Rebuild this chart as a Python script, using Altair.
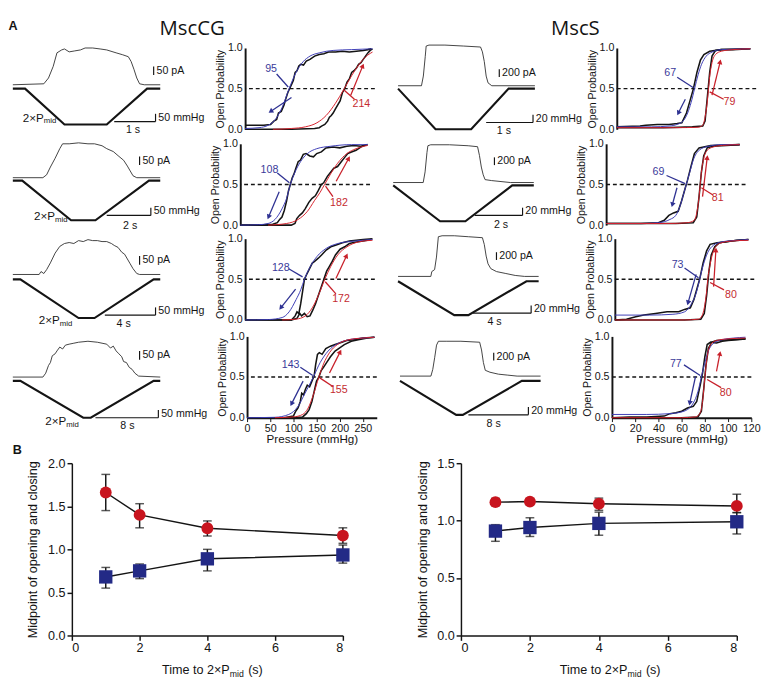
import math
import altair as alt
import pandas as pd

FONT = "Liberation Sans"
BLUE = "#2e3192"
RED = "#c8202a"
INK = "#141414"

# ---------------- Panel A: current (thin) and pressure (thick) traces ----------------
# (time position, amplitude) pairs, arbitrary units
CG_CUR = [
    [(0,46),(33,47),(38,53),(43,65),(47,79),(52,82),(55,83),(60,80),(66,81),(72,82),(77,84),(85,84),(93,83),(100,82),(110,79),(117,77),(123,75),(126,70),(129,62),(132,53),(135,47),(140,46),(157,46)],
    [(0,49),(32,49),(36,52),(40,60),(45,69),(50,79),(53,84),(60,84),(70,85),(80,84),(87,84),(95,82),(100,79),(107,76),(113,71),(118,67),(122,61),(125,56),(128,51),(132,49),(157,49)],
    [(0,47),(28,47),(30,50),(33,48),(36,52),(40,59),(45,69),(50,76),(55,79),(60,80),(65,79),(70,82),(75,81),(80,83),(85,82),(90,82),(95,81),(100,81),(105,79),(108,77),(112,75),(116,70),(119,68),(122,63),(125,58),(128,53),(132,48),(135,47),(157,47)],
    [(0,42),(32,42),(35,46),(38,54),(40,57),(42,64),(45,66),(47,69),(50,73),(53,71),(56,75),(60,76),(65,77),(70,78),(80,79),(90,78),(95,77),(100,76),(104,72),(107,74),(110,69),(113,66),(116,63),(118,58),(121,57),(124,52),(127,50),(130,46),(134,43),(157,42)],
]
CG_PRES = [
    [(0,42),(13,42),(55,5),(100,5),(143,42),(157,42)],
    [(0,46),(10,46),(62,5),(88,5),(145,46),(157,46)],
    [(0,42),(8,42),(70,2),(87,2),(150,42),(157,42)],
    [(0,38),(8,38),(75,0),(83,0),(150,38),(157,38)],
]
S_CUR = [
    [(0,45),(25,45),(27,55),(29,75),(30,86),(33,87),(50,87),(70,86),(88,85),(90,80),(92,70),(94,55),(96,48),(100,45),(146,45)],
    [(0,44),(32,44),(34,55),(36,75),(37,82),(40,83),(60,83),(80,82),(90,81),(92,72),(94,60),(96,52),(98,47),(105,46),(115,45),(125,44),(150,44)],
    [(0,45),(35,45),(36,50),(39,52),(41,65),(43,86),(47,87),(60,87),(75,86),(90,85),(92,78),(94,66),(96,58),(99,53),(105,50),(115,48),(125,46),(135,45),(150,45)],
    [(0,43),(33,43),(35,50),(37,62),(39,75),(41,79),(50,79),(65,79),(85,78),(87,70),(89,57),(91,49),(96,47),(105,45),(115,44),(125,43),(150,43)],
]
S_PRES = [
    [(0,42),(40,0),(78,0),(118,42),(146,42)],
    [(0,41),(50,4),(77,4),(127,41),(150,41)],
    [(0,40),(60,5),(75,5),(137,40),(150,40)],
    [(0,38),(60,3),(67,3),(130,38),(150,38)],
]
# scale bars: current bar (x, low, high); time bar (x1, x2, level); time label (text, x, y)
CG_CUR_BAR = [(150,56,65),(135,62,71),(135,57,66),(135,60,69)]
CG_TIME_BAR = [(108,152,8),(100,147,10),(98,152,5),(88,155,0)]
CG_TIME_LBL = [("1 s",128,5),("2 s",125,5),("4 s",118,2),("8 s",122,-3)]
CG_PMID = [(33,12),(45,9),(50,0),(57,-4)]
S_CUR_BAR = [(108,54,62),(108,62,70),(105,62,70),(100,59,67)]
S_TIME_BAR = [(94,144,7),(87,138,10),(80,142,7),(73,137,3)]
S_TIME_LBL = [("1 s",113,4),("2 s",115,6),("4 s",103,4),("8 s",100,-1)]

# ---------------- Panel A: open probability vs pressure (mmHg) ----------------
CG_CLOSE = [
    [(0,0.05),(20,0.05),(40,0.05),(55,0.06),(62,0.1),(68,0.12),(72,0.2),(78,0.22),(84,0.3),(88,0.38),(92,0.45),(96,0.5),(100,0.55),(104,0.6),(108,0.7),(112,0.72),(116,0.78),(120,0.8),(126,0.79),(132,0.84),(140,0.86),(150,0.9),(160,0.92),(170,0.93),(180,0.95),(195,0.95),(210,0.96),(225,0.95),(240,0.96),(255,0.97),(265,0.98),(272,0.99)],
    [(0,0.0),(40,0.0),(70,0.01),(80,0.03),(85,0.07),(90,0.1),(95,0.18),(100,0.3),(104,0.42),(108,0.5),(112,0.58),(116,0.63),(120,0.7),(125,0.78),(130,0.8),(136,0.87),(142,0.88),(150,0.85),(158,0.84),(165,0.88),(175,0.9),(185,0.95),(200,0.96),(215,0.95),(230,0.97),(245,0.98),(260,0.97),(275,0.99)],
    [(0,0.0),(60,0.0),(100,0.0),(108,0.05),(112,0.1),(116,0.08),(120,0.2),(124,0.35),(128,0.5),(132,0.55),(138,0.62),(145,0.7),(150,0.72),(158,0.76),(165,0.8),(175,0.86),(185,0.9),(195,0.92),(210,0.95),(225,0.97),(240,0.98),(255,0.99),(275,1.0)],
    [(0,0.0),(80,0.0),(100,0.02),(105,0.08),(110,0.12),(115,0.2),(118,0.3),(122,0.28),(126,0.35),(130,0.4),(135,0.38),(140,0.45),(145,0.52),(148,0.65),(152,0.78),(156,0.8),(162,0.78),(170,0.85),(180,0.88),(190,0.9),(200,0.92),(215,0.95),(230,0.96),(250,0.98),(275,0.99)],
]
CG_OPEN = [
    [(0,0.0),(100,0.0),(150,0.01),(160,0.02),(165,0.04),(172,0.06),(178,0.1),(182,0.15),(186,0.17),(190,0.2),(195,0.25),(200,0.3),(205,0.35),(210,0.45),(215,0.5),(220,0.58),(225,0.62),(230,0.7),(235,0.72),(240,0.75),(245,0.8),(250,0.82),(255,0.86),(260,0.9),(265,0.94),(270,0.97),(275,0.99)],
    [(0,0.0),(80,0.0),(110,0.0),(118,0.02),(122,0.08),(128,0.12),(134,0.15),(140,0.2),(148,0.28),(155,0.33),(162,0.36),(168,0.42),(175,0.5),(180,0.52),(188,0.6),(195,0.65),(202,0.7),(210,0.72),(218,0.78),(225,0.83),(232,0.88),(240,0.9),(250,0.92),(260,0.96),(272,0.99)],
    [(0,0.0),(100,0.0),(112,0.02),(118,0.08),(122,0.05),(128,0.08),(134,0.04),(140,0.05),(146,0.12),(152,0.2),(158,0.3),(164,0.4),(170,0.5),(176,0.6),(182,0.66),(188,0.72),(195,0.8),(205,0.87),(215,0.9),(225,0.94),(240,0.96),(255,0.97),(272,0.99)],
    [(0,0.0),(100,0.0),(120,0.01),(128,0.05),(134,0.1),(140,0.2),(146,0.35),(150,0.45),(155,0.5),(160,0.58),(165,0.62),(172,0.68),(180,0.75),(190,0.82),(200,0.86),(210,0.9),(225,0.94),(240,0.96),(260,0.98),(275,0.99)],
]
CG_BFIT = [
    [(0,0.01),(30,0.02),(50,0.05),(65,0.12),(80,0.27),(95,0.5),(110,0.7),(125,0.83),(140,0.9),(160,0.94),(190,0.97),(230,0.98),(275,0.99)],
    [(0,0.0),(40,0.005),(60,0.02),(75,0.07),(90,0.2),(100,0.33),(108,0.5),(118,0.65),(130,0.78),(145,0.88),(165,0.94),(195,0.97),(240,0.99),(275,0.99)],
    [(0,0.0),(50,0.005),(80,0.03),(95,0.1),(110,0.25),(120,0.37),(128,0.5),(140,0.65),(155,0.78),(175,0.88),(200,0.94),(235,0.97),(275,0.99)],
    [(0,0.0),(60,0.005),(90,0.04),(110,0.14),(125,0.3),(143,0.5),(158,0.68),(175,0.82),(195,0.91),(220,0.96),(250,0.98),(275,0.99)],
]
CG_RFIT = [
    [(60,0.0),(100,0.01),(130,0.03),(155,0.08),(175,0.17),(195,0.32),(214,0.5),(230,0.66),(245,0.79),(260,0.89),(275,0.95)],
    [(60,0.0),(100,0.02),(125,0.07),(145,0.17),(160,0.3),(172,0.4),(182,0.5),(195,0.63),(210,0.76),(230,0.88),(250,0.94),(275,0.98)],
    [(80,0.0),(110,0.01),(130,0.05),(145,0.15),(158,0.3),(172,0.5),(185,0.66),(200,0.8),(220,0.9),(245,0.96),(275,0.98)],
    [(60,0.0),(100,0.01),(120,0.04),(132,0.12),(143,0.28),(155,0.5),(165,0.66),(178,0.8),(195,0.9),(220,0.96),(250,0.98),(275,0.99)],
]
S_CLOSE = [
    [(0,0.03),(20,0.04),(25,0.05),(35,0.06),(45,0.06),(52,0.07),(56,0.08),(60,0.2),(63,0.35),(66,0.5),(69,0.7),(72,0.85),(75,0.92),(80,0.96),(90,0.98),(100,0.98),(115,0.99)],
    [(0,0.02),(30,0.02),(45,0.03),(50,0.06),(54,0.12),(58,0.15),(62,0.17),(65,0.3),(68,0.45),(70,0.55),(73,0.72),(76,0.88),(80,0.95),(90,0.98),(115,0.99)],
    [(0,0.0),(10,0.01),(18,0.04),(25,0.06),(35,0.08),(45,0.1),(55,0.1),(60,0.13),(65,0.15),(68,0.25),(71,0.4),(73,0.5),(76,0.7),(79,0.85),(82,0.93),(88,0.95),(95,0.96),(105,0.98),(115,0.99)],
    [(0,0.0),(15,0.01),(30,0.01),(45,0.02),(50,0.05),(55,0.06),(60,0.08),(65,0.12),(70,0.14),(73,0.2),(76,0.4),(78,0.55),(80,0.75),(82,0.9),(85,0.93),(90,0.92),(95,0.94),(100,0.95),(108,0.96),(115,0.97)],
]
S_OPEN = [
    [(0,0.02),(40,0.02),(65,0.03),(74,0.04),(76,0.1),(78,0.4),(80,0.7),(82,0.9),(85,0.97),(90,0.98),(115,0.99)],
    [(0,0.02),(60,0.02),(75,0.03),(78,0.1),(80,0.35),(82,0.65),(84,0.85),(87,0.95),(92,0.97),(115,0.99)],
    [(0,0.0),(60,0.0),(74,0.01),(77,0.08),(79,0.3),(81,0.6),(83,0.8),(86,0.9),(90,0.95),(100,0.97),(115,0.99)],
    [(0,0.0),(60,0.0),(74,0.01),(77,0.08),(79,0.35),(81,0.65),(83,0.85),(86,0.93),(90,0.95),(100,0.96),(115,0.97)],
]
S_BFIT = [
    [(0,0.03),(30,0.03),(45,0.04),(52,0.06),(57,0.1),(61,0.2),(64,0.33),(67,0.5),(70,0.67),(73,0.8),(77,0.9),(82,0.95),(90,0.98),(115,0.99)],
    [(0,0.02),(30,0.02),(45,0.03),(55,0.07),(60,0.12),(64,0.25),(67,0.4),(69,0.5),(72,0.65),(75,0.8),(80,0.92),(88,0.97),(100,0.99),(115,0.99)],
    [(0,0.06),(30,0.06),(50,0.07),(60,0.1),(66,0.2),(70,0.33),(73,0.5),(76,0.67),(80,0.83),(85,0.92),(92,0.96),(105,0.98),(115,0.99)],
    [(0,0.04),(30,0.04),(50,0.05),(62,0.08),(70,0.18),(74,0.32),(77,0.5),(80,0.68),(83,0.82),(88,0.92),(95,0.96),(105,0.98),(115,0.99)],
]
S_RFIT = [
    [(0,0.02),(50,0.02),(70,0.025),(74,0.05),(76,0.15),(78,0.35),(79,0.5),(80,0.65),(82,0.82),(85,0.92),(90,0.96),(100,0.98),(115,0.99)],
    [(0,0.02),(55,0.02),(70,0.03),(76,0.06),(78,0.15),(80,0.35),(81,0.5),(82,0.65),(84,0.82),(87,0.92),(92,0.96),(100,0.98),(115,0.99)],
    [(0,0.0),(60,0.0),(72,0.01),(75,0.05),(77,0.15),(79,0.35),(80,0.5),(82,0.68),(85,0.85),(90,0.94),(100,0.97),(115,0.98)],
    [(0,0.0),(60,0.0),(72,0.01),(76,0.06),(78,0.2),(80,0.5),(82,0.75),(85,0.9),(90,0.95),(100,0.97),(115,0.98)],
]
# midpoint labels: (closing value, x, y), (opening value, x, y)
CG_MID_LBL = [(("95",56,0.74),("214",251,0.31)),(("108",63,0.68),("182",213,0.27)),
              (("128",77,0.64),("172",207,0.26)),(("143",94,0.65),("155",198,0.34))]
S_MID_LBL = [(("67",46,0.69),("79",97,0.33)),(("69",45,0.65),("81",96,0.33)),
             (("73",54,0.67),("80",100,0.30)),(("77",55,0.66),("80",98,0.30))]
# leader lines (x1,y1,x2,y2) for closing / opening
CG_LEAD = [((68,0.68,93,0.52),(214,0.48,236,0.37)),((80,0.64,106,0.52),(184,0.48,200,0.35)),
           ((94,0.63,124,0.53),(173,0.47,196,0.32)),((115,0.62,142,0.52),(157,0.49,186,0.38))]
S_LEAD = [((52,0.64,66,0.51),(80,0.46,92,0.37)),((52,0.61,68,0.51),(82,0.46,92,0.37)),
          ((60,0.64,72,0.52),(82,0.46,94,0.37)),((62,0.65,76,0.52),(82,0.47,94,0.37))]
# direction arrows (tail x, tail y, head x, head y) for closing / opening
CG_ARROW = [((100,0.39,55,0.22),(228,0.42,254,0.78)),((84,0.41,61,0.10),(207,0.54,234,0.82)),
            ((109,0.38,77,0.15),(196,0.51,219,0.79)),((121,0.45,96,0.17),(178,0.55,201,0.81))]
S_ARROW = [((59,0.37,53,0.20),(82,0.42,89,0.83)),((61,0.46,57,0.25),(83,0.35,87,0.83)),
           ((70,0.56,63,0.21),(85,0.41,87,0.86)),((72,0.51,67,0.18),(90,0.57,93,0.79))]

# ---------------- Panel B ----------------
B_T = [1, 2, 4, 8]
BCG_OPEN = [1.66, 1.40, 1.245, 1.16]
BCG_OPEN_LO = [1.45, 1.25, 1.155, 1.07]
BCG_OPEN_HI = [1.87, 1.53, 1.33, 1.25]
BCG_CLOSE = [0.68, 0.75, 0.89, 0.935]
BCG_CLOSE_LO = [0.55, 0.66, 0.75, 0.84]
BCG_CLOSE_HI = [0.79, 0.83, 1.00, 1.05]
BS_OPEN = [1.161, 1.166, 1.147, 1.128]
BS_OPEN_LO = [1.13, 1.14, 1.09, 1.07]
BS_OPEN_HI = [1.194, 1.19, 1.196, 1.23]
BS_CLOSE = [0.909, 0.94, 0.976, 0.99]
BS_CLOSE_LO = [0.82, 0.862, 0.873, 0.884]
BS_CLOSE_HI = [0.965, 1.025, 1.074, 1.07]

# ---------------- layout constants ----------------
PH = 84          # row panel height
TR_Y = 84        # trace amplitude range
CG_TW, CG_TX = 194, 200
S_TW, S_TX = 184, 190
CG_PW, CG_PX = 134, 280
S_PW, S_PX = 144, 120
BH = 178


def pts(lst):
    return pd.DataFrame(lst, columns=["x", "y"])


def trace_panel(cur, pres, cbar, tbar, tlbl, pmid, xmax, width, clabel, plabel):
    xs = alt.Scale(domain=[0, xmax], nice=False, zero=False)
    ys = alt.Scale(domain=[0, TR_Y], nice=False, zero=False)

    def X(f="x"):
        return alt.X(f"{f}:Q", scale=xs, axis=None)

    def Y(f="y"):
        return alt.Y(f"{f}:Q", scale=ys, axis=None)

    c = alt.Chart(pts(cur)).mark_line(color="#2a2a2a", strokeWidth=0.9).encode(x=X(), y=Y())
    p = alt.Chart(pts(pres)).mark_line(color=INK, strokeWidth=2.2).encode(x=X(), y=Y())
    bx, blo, bhi = cbar
    x1, x2, lev = tbar
    bars = pd.DataFrame({
        "x": [bx, x1, x2], "y": [blo, lev, lev],
        "x2": [bx, x2, x2], "y2": [bhi, lev, lev + 8],
    })
    r = alt.Chart(bars).mark_rule(color=INK, strokeWidth=1.2).encode(
        x=X(), y=Y(), x2="x2:Q", y2="y2:Q")
    lt = pd.DataFrame({"x": [bx + 3, x2 + 3], "y": [(blo + bhi) / 2, lev + 4],
                       "t": [clabel, plabel]})
    t1 = alt.Chart(lt).mark_text(align="left", baseline="middle", fontSize=11, color=INK).encode(
        x=X(), y=Y(), text="t:N")
    tt = pd.DataFrame({"x": [tlbl[1]], "y": [tlbl[2]], "t": [tlbl[0]]})
    t2 = alt.Chart(tt).mark_text(align="center", baseline="top", fontSize=11, color=INK).encode(
        x=X(), y=Y(), text="t:N")
    layers = [c, p, r, t1, t2]
    if pmid is not None:
        pm = pd.DataFrame({"x": [pmid[0]], "y": [pmid[1]], "t": ["2×P"], "s": ["mid"]})
        layers.append(alt.Chart(pm).mark_text(align="right", baseline="middle", fontSize=12,
                                              color=INK).encode(x=X(), y=Y(), text="t:N"))
        layers.append(alt.Chart(pm).mark_text(align="left", baseline="middle", fontSize=8, dy=4,
                                              color=INK).encode(x=X(), y=Y(), text="s:N"))
    return alt.layer(*layers).properties(width=width, height=PH)


def po_panel(xmax, width, close_d, open_d, bfit, rfit, lbl, lead, arrow, xvals):
    xs = alt.Scale(domain=[0, xmax], nice=False, zero=False)
    ys = alt.Scale(domain=[0, 1], nice=False, zero=False)
    if xvals is not None:
        xaxis = alt.Axis(values=xvals, title="Pressure (mmHg)", labelFontSize=11, titleFontSize=12,
                         tickSize=4, domainWidth=2, labelPadding=1, titlePadding=1, labelFlush=False)
    else:
        xaxis = None
    yaxis = alt.Axis(values=[0, 0.5, 1], format=".1f", title="Open Probability", labelFontSize=11,
                     titleFontSize=11, ticks=False, domainWidth=2, labelPadding=3, titlePadding=2)

    def X(f="x"):
        return alt.X(f"{f}:Q", scale=xs, axis=xaxis)

    def Y(f="y"):
        return alt.Y(f"{f}:Q", scale=ys, axis=yaxis)

    dash = alt.Chart(pd.DataFrame({"y": [0.5]})).mark_rule(
        color=INK, strokeDash=[4, 3], strokeWidth=1.5).encode(y=Y())
    bc = alt.Chart(pts(close_d)).mark_line(color=INK, strokeWidth=1.6).encode(x=X(), y=Y())
    bo = alt.Chart(pts(open_d)).mark_line(color=INK, strokeWidth=1.6).encode(x=X(), y=Y())
    fb = alt.Chart(pts(bfit)).mark_line(color="#3b3bb5", strokeWidth=1, interpolate="monotone").encode(x=X(), y=Y())
    fr = alt.Chart(pts(rfit)).mark_line(color="#d8202a", strokeWidth=1, interpolate="monotone").encode(x=X(), y=Y())

    sx = width / xmax
    sy = PH / 1.0
    seg_rows, head_rows = [], []
    for (l, col) in zip(lead, [BLUE, RED]):
        seg_rows.append({"x": l[0], "y": l[1], "x2": l[2], "y2": l[3], "c": col})
    for (a, col) in zip(arrow, [BLUE, RED]):
        seg_rows.append({"x": a[0], "y": a[1], "x2": a[2], "y2": a[3], "c": col})
        dx = (a[2] - a[0]) * sx
        dys = -(a[3] - a[1]) * sy
        ang = math.degrees(math.atan2(dx, -dys)) % 360
        head_rows.append({"x": a[2], "y": a[3], "ang": ang, "c": col})
    segs = alt.Chart(pd.DataFrame(seg_rows)).mark_rule(strokeWidth=1.3).encode(
        x=X(), y=Y(), x2="x2:Q", y2="y2:Q", color=alt.Color("c:N", scale=None))
    heads = alt.Chart(pd.DataFrame(head_rows)).mark_point(
        shape="triangle-up", filled=True, size=32, opacity=1).encode(
        x=X(), y=Y(), angle=alt.Angle("ang:Q", scale=None), color=alt.Color("c:N", scale=None))
    tl = pd.DataFrame([
        {"x": lbl[0][1], "y": lbl[0][2], "t": lbl[0][0], "c": "#3a3a9a"},
        {"x": lbl[1][1], "y": lbl[1][2], "t": lbl[1][0], "c": "#c42b30"},
    ])
    texts = alt.Chart(tl).mark_text(fontSize=11, align="center", baseline="middle").encode(
        x=X(), y=Y(), text="t:N", color=alt.Color("c:N", scale=None))
    return alt.layer(dash, bc, bo, fb, fr, segs, heads, texts).properties(width=width, height=PH)


rows = []
for i in range(4):
    last = i == 3
    cg_t = trace_panel(CG_CUR[i], CG_PRES[i], CG_CUR_BAR[i], CG_TIME_BAR[i], CG_TIME_LBL[i],
                       CG_PMID[i], CG_TX, CG_TW, "50 pA", "50 mmHg")
    cg_p = po_panel(CG_PX, CG_PW, CG_CLOSE[i], CG_OPEN[i], CG_BFIT[i], CG_RFIT[i],
                    CG_MID_LBL[i], CG_LEAD[i], CG_ARROW[i],
                    [0, 50, 100, 150, 200, 250] if last else None)
    s_t = trace_panel(S_CUR[i], S_PRES[i], S_CUR_BAR[i], S_TIME_BAR[i], S_TIME_LBL[i],
                      None, S_TX, S_TW, "200 pA", "20 mmHg")
    s_p = po_panel(S_PX, S_PW, S_CLOSE[i], S_OPEN[i], S_BFIT[i], S_RFIT[i],
                   S_MID_LBL[i], S_LEAD[i], S_ARROW[i],
                   [0, 20, 40, 60, 80, 100, 120] if last else None)
    cg = alt.hconcat(cg_t, cg_p, spacing=9)
    s = alt.hconcat(s_t, s_p, spacing=3)
    if i == 0:
        cg = cg.properties(title=alt.TitleParams("MscCG", fontSize=21, font="Open Sans", anchor="middle",
                                                 fontWeight="normal", offset=3))
        s = s.properties(title=alt.TitleParams("MscS", fontSize=21, font="Open Sans", anchor="middle",
                                               fontWeight="normal", offset=3))
    rows.append(alt.hconcat(cg, s, spacing=18))

A_block = alt.vconcat(*rows, spacing=2).properties(
    title=alt.TitleParams("A", anchor="start", fontSize=13, fontWeight="bold", offset=-14))


def b_panel(width, height, ymax, yvals, om, olo, ohi, cm, clo, chi, title_x):
    xs = alt.Scale(domain=[0, 8], nice=False, zero=False)
    ys = alt.Scale(domain=[0, ymax], nice=False, zero=False)
    xaxis = alt.Axis(values=[0, 2, 4, 6, 8], title=None, labelFontSize=13, tickSize=5,
                     domainWidth=1.5, tickWidth=1.5, labelPadding=2)
    yaxis = alt.Axis(values=yvals, format=".1f", title="Midpoint of opening and closing",
                     labelFontSize=13, titleFontSize=13, tickSize=5, domainWidth=1.5, tickWidth=1.5,
                     labelPadding=2, titlePadding=8)

    def X(f="t"):
        return alt.X(f"{f}:Q", scale=xs, axis=xaxis)

    def Y(f="m"):
        return alt.Y(f"{f}:Q", scale=ys, axis=yaxis)

    d_o = pd.DataFrame({"t": B_T, "m": om, "lo": olo, "hi": ohi})
    d_c = pd.DataFrame({"t": B_T, "m": cm, "lo": clo, "hi": chi})
    layers = []
    for d in (d_o, d_c):
        layers.append(alt.Chart(d).mark_rule(color=INK, strokeWidth=1.5).encode(
            x=X(), y=Y("lo"), y2="hi:Q"))
        layers.append(alt.Chart(d).mark_tick(orient="horizontal", color=INK, size=9, thickness=1.5).encode(
            x=X(), y=Y("lo")))
        layers.append(alt.Chart(d).mark_tick(orient="horizontal", color=INK, size=9, thickness=1.5).encode(
            x=X(), y=Y("hi")))
        layers.append(alt.Chart(d).mark_line(color=INK, strokeWidth=1.5).encode(x=X(), y=Y()))
    layers.append(alt.Chart(d_o).mark_point(shape="circle", filled=True, size=150, opacity=1,
                                            color="#c8141e").encode(x=X(), y=Y()))
    layers.append(alt.Chart(d_c).mark_point(shape="square", filled=True, size=190, opacity=1,
                                            color="#232a86").encode(x=X(), y=Y()))
    ty = -36 / (height / ymax)
    tdf = pd.DataFrame({"t": [title_x], "m": [ty], "a": ["Time to 2×P"], "b": ["mid"], "c": ["(s)"]})
    layers.append(alt.Chart(tdf).mark_text(align="right", baseline="middle", fontSize=13, color=INK).encode(
        x=X(), y=Y(), text="a:N"))
    layers.append(alt.Chart(tdf).mark_text(align="left", baseline="middle", fontSize=9, dy=4, color=INK).encode(
        x=X(), y=Y(), text="b:N"))
    layers.append(alt.Chart(tdf).mark_text(align="left", baseline="middle", fontSize=13, dx=19, color=INK).encode(
        x=X(), y=Y(), text="c:N"))
    return alt.layer(*layers).properties(width=width, height=height)


b_left = b_panel(280, BH, 2.0, [0, 0.5, 1.0, 1.5, 2.0], BCG_OPEN, BCG_OPEN_LO, BCG_OPEN_HI,
                 BCG_CLOSE, BCG_CLOSE_LO, BCG_CLOSE_HI, 4.66)
b_right = b_panel(285, BH, 1.5, [0, 0.5, 1.0, 1.5], BS_OPEN, BS_OPEN_LO, BS_OPEN_HI,
                  BS_CLOSE, BS_CLOSE_LO, BS_CLOSE_HI, 4.83)
spacer = alt.Chart(pd.DataFrame({"v": [0]})).mark_text(text="").encode(
    x=alt.X("v:Q", axis=None), y=alt.Y("v:Q", axis=None)).properties(width=14, height=10)
B_block = alt.hconcat(spacer, alt.hconcat(b_left, b_right, spacing=68), spacing=0).properties(
    title=alt.TitleParams("B", anchor="start", fontSize=13, fontWeight="bold", offset=0))

chart = alt.vconcat(A_block, B_block, spacing=0).properties(
    padding={"left": 0, "right": 0, "top": 0, "bottom": 0})
chart = chart.configure_view(stroke=None).configure_axis(
    grid=False, labelFont=FONT, titleFont=FONT, labelColor=INK, titleColor=INK,
    domainColor=INK, tickColor=INK, titleFontWeight="normal").configure_title(
    font=FONT, color=INK).configure_text(font=FONT)

chart.save("out.html", embed_options={"renderer": "svg", "actions": False})
